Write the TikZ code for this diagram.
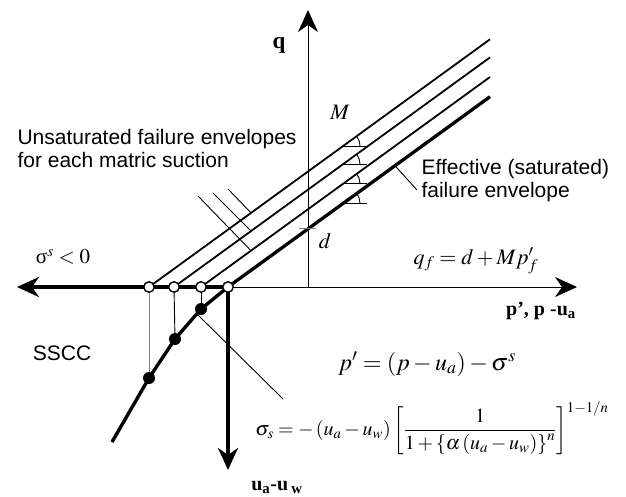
\documentclass[tikz,border=0pt]{standalone}
\usepackage{amsmath}
\usepackage{mathptmx}
\usepackage{fontspec}
\setmainfont{Liberation Serif}
\newfontfamily\arialfont{Liberation Sans}
\usetikzlibrary{arrows.meta, positioning, calc}

\begin{document}
\begin{tikzpicture}[
  x=1pt, y=-1pt,
  axis/.style    = {line width=1pt},
  thkaxis/.style = {line width=3.4pt, line join=round},
  env/.style     = {line width=1.8pt},
  effenv/.style  = {line width=3.3pt},
  lead/.style    = {line width=0.9pt},
  arr/.style     = {-{Stealth[length=22pt, width=20pt, inset=7pt]}},
  hollow/.style  = {circle, draw, line width=1.4pt, fill=white, inner sep=0pt, minimum size=10.5pt},
  dot/.style     = {circle, fill=black, inner sep=0pt, minimum size=12pt},
  sans/.style    = {font=\arialfont\fontsize{21}{23}\selectfont, align=left},
  serif/.style   = {font=\fontsize{22}{24}\selectfont},
]
\useasboundingbox (0,0) rectangle (626,496);

% ── Axes ─────────────────────────────────────────────────────────────────────
\coordinate (o)    at (308,287);
\coordinate (qend) at (308,10);
\coordinate (pend) at (577,287);
\coordinate (send) at (17,287);
\coordinate (uend) at (228,470);

\draw[axis, arr] (o) -- (qend);
\draw[axis, arr] (228,287) -- (pend);
\draw[thkaxis, arr] (228,287) -- (send);
\draw[thkaxis, arr] (228,287) -- (uend);

% ── SSCC curve ───────────────────────────────────────────────────────────────
\coordinate (s3) at (201,309);
\coordinate (s2) at (175,339);
\coordinate (s1) at (149,378);
\coordinate (sx) at (112,442);
\draw[thkaxis] (228,287) -- (s3) -- (s2) -- (s1) -- (sx);

\draw[lead, gray] (149,287) -- (s1);
\draw[lead] (174,287) -- (s2);
\draw[lead] (201,287) -- (s3);

% ── Failure envelopes ────────────────────────────────────────────────────────
\coordinate (e1) at (490,39.3);
\coordinate (e2) at (490,57.4);
\coordinate (e3) at (490,77.0);
\coordinate (e4) at (490,96.7);
\draw[env]    (149,287) -- (e1);
\draw[env]    (174,287) -- (e2);
\draw[env]    (201,287) -- (e3);
\draw[effenv] (228,287) -- (e4);

% slope marks
\foreach \n/\y in {1/146.1, 2/164.2, 3/183.8, 4/203.5} {
  \coordinate (m\n) at (343,\y);
  \draw[lead] (m\n) -- ++(24,0);
  \draw[lead] ($(m\n)+(17,0)$) arc[start angle=0, end angle=36, radius=17pt];
}

% leaders
\draw[lead] (198,196) -- (251,250.7);
\draw[lead] (213,193) -- (251,231.1);
\draw[lead] (228,189) -- (251,212.9);
\draw[lead] (395,165.7) -- (417,190);
\draw[lead] (197,314) -- (283,399);

% intercept d
\draw[lead, gray] (299,228) -- (316,228);

% ── Intersection points ──────────────────────────────────────────────────────
\node[hollow] (c1) at (149,287) {};
\node[hollow] (c2) at (174,287) {};
\node[hollow] (c3) at (201,287) {};
\node[hollow] (c4) at (228,287) {};
\node[dot] (d3) at (s3) {};
\node[dot] (d2) at (s2) {};
\node[dot] (d1) at (s1) {};

% ── Labels ───────────────────────────────────────────────────────────────────
\node[serif, font=\bfseries\fontsize{23}{24}\selectfont] (qlbl) at (279,45) {q};
\node[serif] (dlbl) at (325,241) {$d$};
\node[serif] (mlbl) at (340,112) {$M$};
\node[sans, anchor=west] (unsat) at (14,148)
      {Unsaturated failure envelopes\\for each matric suction};
\node[sans, anchor=west] (effl) at (418,181)
      {Effective (saturated)\\failure envelope};
\node[serif, font=\fontsize{21}{23}\selectfont] (sneg) at (63,257) {σ$^{s}<0$};
\node[sans] (sscc) at (62,353) {SSCC};
\node[serif, font=\bfseries\fontsize{20}{22}\selectfont] (ulbl) at (277,487)
      {u\textsubscript{a}-u\,\textsubscript{w}};
\node[serif, font=\bfseries\fontsize{20}{22}\selectfont] (plbl) at (541,311)
      {p’, p -u\textsubscript{a}};
\node[serif] (qf) at (476,261) {$q_f = d + Mp'_f$};
\node[serif, font=\fontsize{24}{26}\selectfont] (peff) at (427,364)
      {$p' = \left(p-u_a\right) - \sigma^{s}$};
\node[serif, font=\fontsize{20}{22}\selectfont] (sig) at (432,428)
      {$\sigma_s = -\left(u_a-u_w\right)\left[\dfrac{1}{1+\left\{\alpha\left(u_a-u_w\right)\right\}^{n}}\right]^{1-1/n}$};

\end{tikzpicture}
\end{document}
